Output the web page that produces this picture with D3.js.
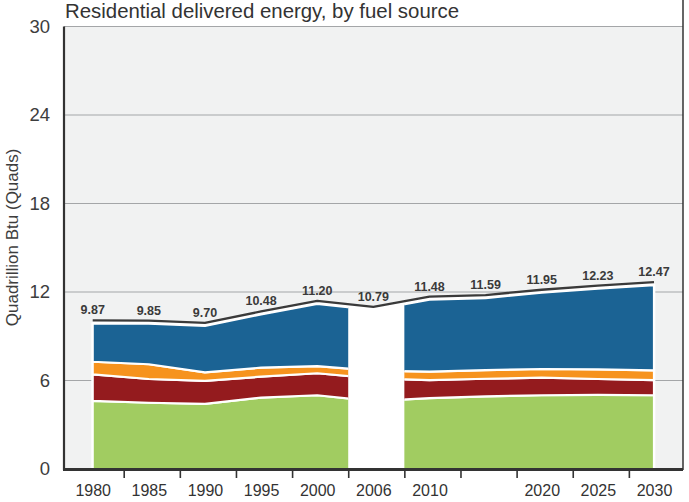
<!DOCTYPE html>
<html>
<head>
<meta charset="utf-8">
<script src="https://cdn.jsdelivr.net/npm/d3@7"></script>
<style>
  html, body { margin: 0; padding: 0; background: #ffffff; }
  svg { display: block; font-family: "Liberation Sans", Arial, sans-serif; }
</style>
</head>
<body>
<svg id="chart" width="689" height="502"></svg>
<script>
// ---- data ----
const years = [1980, 1985, 1990, 1995, 2000, 2006, 2010, 2015, 2020, 2025, 2030];
const yearLabels = ["1980", "1985", "1990", "1995", "2000", "2006", "2010", "", "2020", "2025", "2030"];
const totals = [9.87, 9.85, 9.70, 10.48, 11.20, 10.79, 11.48, 11.59, 11.95, 12.23, 12.47];
const totalLabels = ["9.87", "9.85", "9.70", "10.48", "11.20", "10.79", "11.48", "11.59", "11.95", "12.23", "12.47"];
const naturalGas  = [4.62, 4.49, 4.41, 4.84, 5.00, 4.60, 4.80, 4.93, 5.00, 5.02, 5.00];
const petroleum   = [1.80, 1.61, 1.56, 1.42, 1.49, 1.55, 1.23, 1.19, 1.19, 1.08, 1.03];
const renewables  = [0.85, 1.00, 0.58, 0.61, 0.49, 0.52, 0.57, 0.59, 0.59, 0.66, 0.66];
const electricity = [2.60, 2.75, 3.15, 3.61, 4.22, 4.12, 4.88, 4.88, 5.17, 5.47, 5.78];
const seriesKeys = ["naturalGas", "petroleum", "renewables", "electricity"];
const seriesColors = ["#a1cc61", "#941b1e", "#f6931e", "#1b6394"];
const yTicks = [0, 6, 12, 18, 24, 30];
const gapYear = 2006;

// ---- layout ----
const svg = d3.select("#chart");
const plotLeft = 64, plotRight = 683, plotTop = 26.5, plotBottom = 469;

const x = d3.scalePoint().domain(years).range([92.7, 654]);
const y = d3.scaleLinear().domain([0, 30]).range([plotBottom, plotTop]);
const tickShift = 31;

const rows = years.map((yr, i) => ({
  year: yr,
  naturalGas: naturalGas[i],
  petroleum: petroleum[i],
  renewables: renewables[i],
  electricity: electricity[i],
  total: totals[i],
  label: totalLabels[i]
}));

// background
svg.append("rect")
  .attr("x", plotLeft).attr("y", plotTop)
  .attr("width", plotRight - plotLeft).attr("height", plotBottom - plotTop)
  .attr("fill", "#f1f2f2");

// gridlines
svg.append("g").selectAll("line")
  .data(yTicks.filter(t => t > 0))
  .join("line")
  .attr("x1", plotLeft).attr("x2", plotRight)
  .attr("y1", d => y(d)).attr("y2", d => y(d))
  .attr("stroke", "#a4a6a8").attr("stroke-width", 1.1);

// clip paths: everything except the 2006 band
const defs = svg.append("defs");
const gapL = x(2000) + tickShift, gapR = x(gapYear) + tickShift;
const cp = defs.append("clipPath").attr("id", "nogap");
cp.append("rect").attr("x", 0).attr("y", 0).attr("width", gapL).attr("height", 502);
cp.append("rect").attr("x", gapR).attr("y", 0).attr("width", 689 - gapR).attr("height", 502);

// white total area (shows in the 2006 band and as outline)
const totalArea = d3.area()
  .x(d => x(d.year))
  .y0(y(0))
  .y1(d => y(d.total));
svg.append("path")
  .datum(rows)
  .attr("d", totalArea)
  .attr("fill", "#ffffff")
  .attr("stroke", "#ffffff")
  .attr("stroke-width", 2.5);

// stacked layers
const stack = d3.stack().keys(seriesKeys);
const layers = stack(rows);
const area = d3.area()
  .x(d => x(d.data.year))
  .y0(d => y(d[0]))
  .y1(d => y(d[1]));

svg.append("g")
  .attr("clip-path", "url(#nogap)")
  .selectAll("path")
  .data(layers)
  .join("path")
  .attr("d", area)
  .attr("fill", (d, i) => seriesColors[i])
  .attr("stroke", "#ffffff")
  .attr("stroke-width", 2.2)
  .attr("stroke-linejoin", "round");

// total line (drawn just above the stack)
const totalLine = d3.line()
  .x(d => x(d.year))
  .y(d => y(d.total) - 3);
svg.append("path")
  .datum(rows)
  .attr("d", d3.line().x(d => x(d.year)).y(d => y(d.total) - 1.2))
  .attr("fill", "none")
  .attr("stroke", "#ffffff")
  .attr("stroke-width", 3);
svg.append("path")
  .datum(rows)
  .attr("d", totalLine)
  .attr("fill", "none")
  .attr("stroke", "#3a3a3a")
  .attr("stroke-width", 2.3)
  .attr("stroke-linejoin", "round");

// value labels
svg.append("g").selectAll("text")
  .data(rows)
  .join("text")
  .attr("x", d => x(d.year))
  .attr("y", d => y(d.total) - 9)
  .attr("text-anchor", "middle")
  .attr("font-size", 12.5)
  .attr("font-weight", "bold")
  .attr("fill", "#3a3a3a")
  .text(d => d.label);

// y axis labels
const yAxis = d3.axisLeft(y).tickValues(yTicks).tickSize(0).tickPadding(14);
const gy = svg.append("g").attr("transform", `translate(${plotLeft},0)`).call(yAxis);
gy.select(".domain").remove();
gy.selectAll("text")
  .attr("font-size", 18.5)
  .attr("font-family", "Liberation Sans, Arial, sans-serif")
  .attr("fill", "#3d3d3d");

// x axis labels
const xAxis = d3.axisBottom(x).tickValues(years)
  .tickFormat((d, i) => yearLabels[i]).tickSize(0).tickPadding(16);
const gx = svg.append("g").attr("transform", `translate(0,${plotBottom})`).call(xAxis);
gx.select(".domain").remove();
gx.selectAll("text")
  .attr("font-size", 16)
  .attr("font-family", "Liberation Sans, Arial, sans-serif")
  .attr("fill", "#333333");

// x tick marks between categories
const tickAxis = d3.axisBottom(x).tickValues(years.slice(0, years.length - 1))
  .tickFormat("").tickSize(9).tickSizeOuter(0);
const gt = svg.append("g").attr("transform", `translate(${tickShift},${plotBottom})`).call(tickAxis);
gt.select(".domain").remove();
gt.selectAll("line").attr("stroke", "#333333").attr("stroke-width", 1.6);

// frame lines
svg.append("line")
  .attr("x1", plotLeft).attr("x2", plotLeft)
  .attr("y1", plotTop).attr("y2", plotBottom + 1)
  .attr("stroke", "#333333").attr("stroke-width", 2.2);
svg.append("line")
  .attr("x1", plotLeft - 1).attr("x2", plotRight)
  .attr("y1", plotBottom + 0.5).attr("y2", plotBottom + 0.5)
  .attr("stroke", "#333333").attr("stroke-width", 2.8);
svg.append("line")
  .attr("x1", plotRight).attr("x2", plotRight)
  .attr("y1", 0).attr("y2", plotBottom + 1)
  .attr("stroke", "#333333").attr("stroke-width", 1.5);

// title
svg.append("text")
  .attr("x", 65).attr("y", 18)
  .attr("font-size", 20.4)
  .attr("fill", "#333333")
  .text("Residential delivered energy, by fuel source");

// y axis title
svg.append("text")
  .attr("transform", `translate(18,${y(15.7)}) rotate(-90)`)
  .attr("text-anchor", "middle")
  .attr("font-size", 17)
  .attr("fill", "#3d3d3d")
  .text("Quadrillion Btu (Quads)");
</script>
</body>
</html>
